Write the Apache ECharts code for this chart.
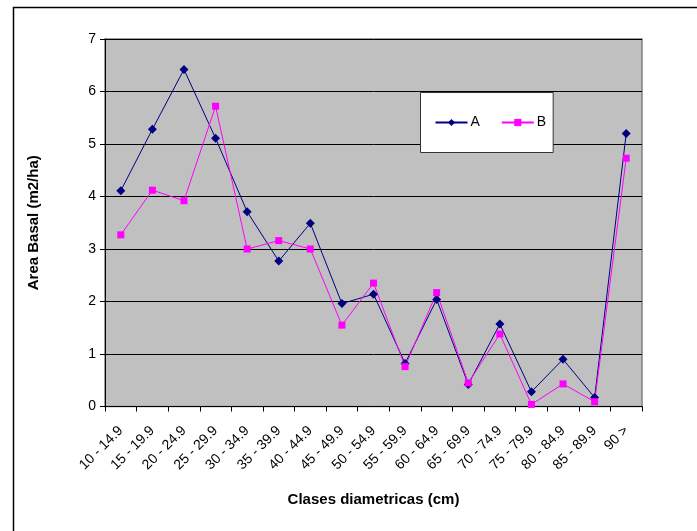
<!DOCTYPE html>
<html>
<head>
<meta charset="utf-8">
<script src="https://cdn.jsdelivr.net/npm/echarts@6/dist/echarts.min.js"></script>
<style>
html,body{margin:0;padding:0;background:#fff;}
#chart{width:697px;height:531px;}
</style>
</head>
<body>
<div id="chart"></div>
<script>
var categories = ["10 - 14.9","15 - 19.9","20 - 24.9","25 - 29.9","30 - 34.9","35 - 39.9","40 - 44.9","45 - 49.9","50 - 54.9","55 - 59.9","60 - 64.9","65 - 69.9","70 - 74.9","75 - 79.9","80 - 84.9","85 - 89.9","90 >"];
var seriesA = [4.11,5.28,6.42,5.11,3.71,2.77,3.49,1.96,2.14,0.82,2.04,0.42,1.57,0.28,0.90,0.17,5.20];
var seriesB = [3.27,4.12,3.92,5.72,3.00,3.16,3.00,1.55,2.35,0.76,2.17,0.45,1.38,0.04,0.43,0.09,4.73];
var yTicks = [0,1,2,3,4,5,6,7];

var chart = echarts.init(document.getElementById('chart'));
var font = 'Liberation Sans, Arial, sans-serif';
chart.setOption({
  animation: false,
  textStyle: {fontFamily: font},
  graphic: [{
    type: 'rect', left: 11, top: 5, silent: true,
    shape: {x: 0, y: 0, width: 720, height: 620},
    style: {fill: 'none', stroke: '#000', lineWidth: 1.5}
  }],
  grid: {left: 105, right: 55, top: 39, bottom: 124.5, show: true,
         backgroundColor: '#C0C0C0', borderColor: '#808080', borderWidth: 1.5},
  legend: {
    left: 420.5, top: 92.5, orient: 'horizontal',
    backgroundColor: '#fff', borderColor: '#333', borderWidth: 1,
    padding: [23, 7, 23, 14], itemGap: 21, itemWidth: 32, itemHeight: 9,
    textStyle: {fontSize: 14, color: '#000', fontFamily: font, padding: [0,0,0,-2]},
    data: ['A', 'B']
  },
  xAxis: {
    type: 'category', data: categories, boundaryGap: true,
    name: 'Clases diametricas (cm)', nameLocation: 'middle', nameGap: 86,
    nameTextStyle: {fontWeight: 'bold', fontSize: 15, color: '#000', fontFamily: font},
    axisLine: {lineStyle: {color: '#000', width: 1}},
    axisTick: {show: true, length: 5, lineStyle: {color: '#000'}, interval: 0},
    axisLabel: {rotate: 45, fontSize: 14, color: '#000', margin: 22, interval: 0, fontFamily: font},
    splitLine: {show: false}
  },
  yAxis: {
    type: 'value', min: 0, max: 7, interval: 1,
    name: 'Area Basal (m2/ha)', nameLocation: 'middle', nameGap: 64,
    nameTextStyle: {fontWeight: 'bold', fontSize: 15, color: '#000', fontFamily: font},
    axisLine: {show: true, lineStyle: {color: '#000', width: 1}},
    axisTick: {show: true, length: 5, lineStyle: {color: '#000'}},
    axisLabel: {fontSize: 14, color: '#000', margin: 9, fontFamily: font,
      formatter: function (v) { return yTicks.indexOf(v) >= 0 ? String(v) : ''; }},
    splitLine: {show: true, lineStyle: {color: '#000', width: 1}}
  },
  series: [
    {name: 'A', type: 'line', data: seriesA, symbol: 'diamond', symbolSize: 9,
     itemStyle: {color: '#000080'}, lineStyle: {color: '#000080', width: 1}},
    {name: 'B', type: 'line', data: seriesB, symbol: 'rect', symbolSize: 7,
     itemStyle: {color: '#FF00FF'}, lineStyle: {color: '#FF00FF', width: 1}}
  ]
});
</script>
</body>
</html>
